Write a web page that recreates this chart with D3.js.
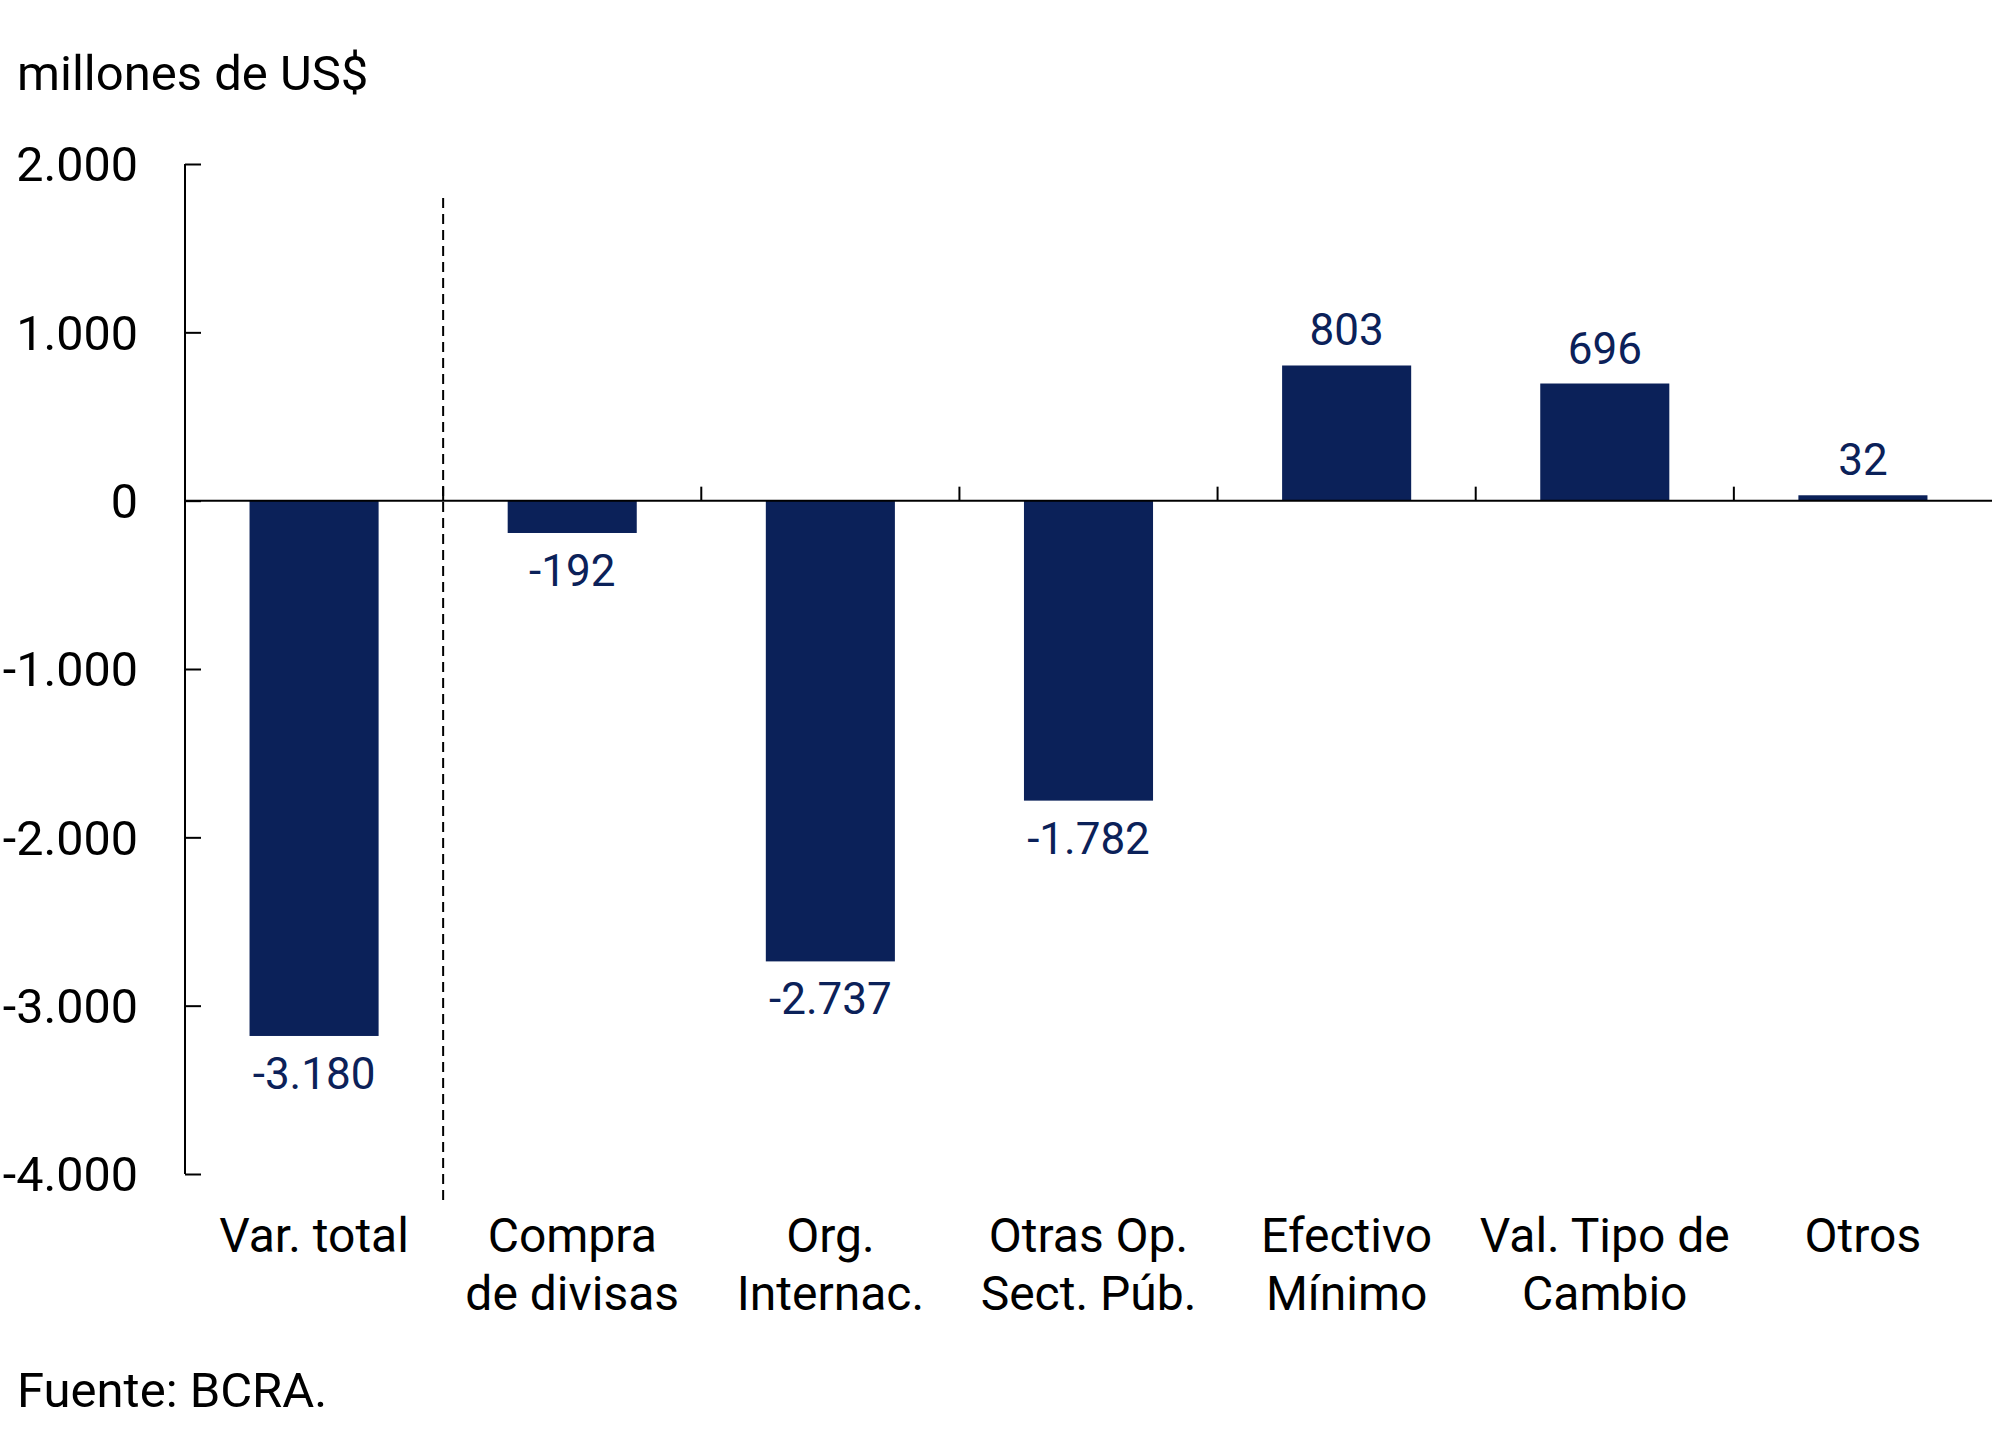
<!DOCTYPE html>
<html>
<head>
<meta charset="utf-8">
<script src="https://cdn.jsdelivr.net/npm/d3@7"></script>
<style>
  body { margin: 0; background: #fff; }
  svg { display: block; font-family: Roboto, "Noto Sans", sans-serif; }
</style>
</head>
<body>
<div id="chart"></div>
<script>
// Data
const categories = [
  ["Var. total"],
  ["Compra", "de divisas"],
  ["Org.", "Internac."],
  ["Otras Op.", "Sect. Púb."],
  ["Efectivo", "Mínimo"],
  ["Val. Tipo de", "Cambio"],
  ["Otros"]
];
const values = [-3180, -192, -2737, -1782, 803, 696, 32];
const yTicks = [2000, 1000, 0, -1000, -2000, -3000, -4000];

const W = 2000, H = 1429;
const margin = { top: 164, right: 8, bottom: 255, left: 185 },
    width = W - margin.left - margin.right,
    height = H - margin.top - margin.bottom;

const navy = "#0b2159";

const locale = d3.formatLocale({ decimal: ",", thousands: ".", grouping: [3], currency: ["$", ""], minus: "-" });
const fmt = locale.format(",d");

let svg = d3.select("#chart")
    .append("svg")
    .attr("width", W)
    .attr("height", H);

let g = svg.append("g")
    .attr("transform", "translate(" + margin.left + "," + margin.top + ")");

// Scales
let x = d3.scaleBand()
    .domain(d3.range(categories.length))
    .range([0, width])
    .paddingInner(0.5)
    .paddingOuter(0.25);
const step = x.step();

let y = d3.scaleLinear()
    .domain([-4000, 2000])
    .range([height, 0]);

// Y axis (ticks pointing inward)
let yAxis = g.append("g")
    .call(d3.axisRight(y).tickValues(yTicks).tickSize(16).tickFormat(""));
yAxis.select(".domain").attr("stroke", "#000").attr("stroke-width", 2).attr("d", "M0," + y(2000) + "V" + y(-4000));
yAxis.selectAll(".tick line").attr("stroke", "#000").attr("stroke-width", 2);

g.selectAll(".ylab")
    .data(yTicks)
    .enter()
    .append("text")
    .attr("class", "ylab")
    .attr("x", -47)
    .attr("y", d => y(d))
    .attr("dy", "0.36em")
    .attr("text-anchor", "end")
    .style("font-size", "48.5px")
    .attr("fill", "#000")
    .text(d => fmt(d));

// Bars
g.selectAll(".bar")
    .data(values)
    .enter()
    .append("rect")
    .attr("class", "bar")
    .attr("x", (d, i) => x(i))
    .attr("y", d => y(Math.max(0, d)))
    .attr("width", x.bandwidth())
    .attr("height", d => Math.abs(y(d) - y(0)))
    .attr("fill", navy);

// X axis line at zero
g.append("line")
    .attr("x1", 0)
    .attr("x2", width)
    .attr("y1", y(0))
    .attr("y2", y(0))
    .attr("stroke", "#000")
    .attr("stroke-width", 2);

// Category separator ticks (pointing up)
g.selectAll(".xtick")
    .data(d3.range(1, categories.length))
    .enter()
    .append("line")
    .attr("class", "xtick")
    .attr("x1", i => x(i) - step * 0.25)
    .attr("x2", i => x(i) - step * 0.25)
    .attr("y1", y(0))
    .attr("y2", y(0) - 14)
    .attr("stroke", "#000")
    .attr("stroke-width", 2);

// Dashed separator after "Var. total"
g.append("line")
    .attr("x1", x(1) - step * 0.25)
    .attr("x2", x(1) - step * 0.25)
    .attr("y1", 34)
    .attr("y2", 1041)
    .attr("stroke", "#000")
    .attr("stroke-width", 2)
    .attr("stroke-dasharray", "10,6");

// Value labels
g.selectAll(".vlab")
    .data(values)
    .enter()
    .append("text")
    .attr("class", "vlab")
    .attr("x", (d, i) => x(i) + x.bandwidth() / 2)
    .attr("y", d => d >= 0 ? y(d) - 20 : y(d) + 53)
    .attr("text-anchor", "middle")
    .style("font-size", "44px")
    .attr("fill", navy)
    .text(d => fmt(d));

// Category labels
let cat = g.selectAll(".cat")
    .data(categories)
    .enter()
    .append("text")
    .attr("class", "cat")
    .attr("text-anchor", "middle")
    .style("font-size", "48px")
    .attr("fill", "#000");
cat.selectAll("tspan")
    .data((d, i) => d.map(t => ({ t: t, i: i })))
    .enter()
    .append("tspan")
    .attr("x", d => x(d.i) + x.bandwidth() / 2)
    .attr("y", (d, j) => 1088 + j * 58)
    .text(d => d.t);

// Unit title
svg.append("text")
    .attr("x", 17)
    .attr("y", 90)
    .style("font-size", "49px")
    .attr("fill", "#000")
    .text("millones de US$");

// Source
svg.append("text")
    .attr("x", 17)
    .attr("y", 1407)
    .style("font-size", "49px")
    .attr("fill", "#000")
    .text("Fuente: BCRA.");
</script>
</body>
</html>
